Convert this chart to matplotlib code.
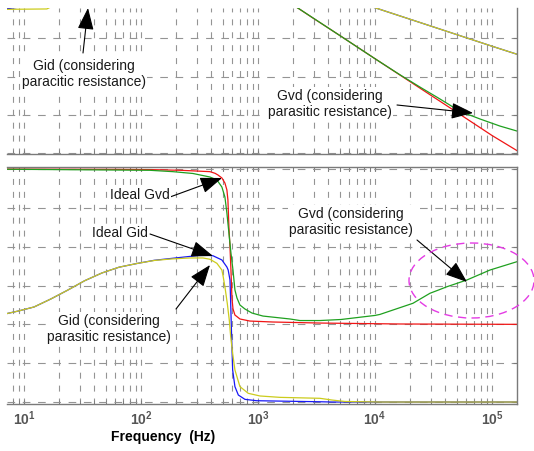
import matplotlib
matplotlib.use("Agg")
import matplotlib.pyplot as plt
from matplotlib.patches import Ellipse

plt.rcParams["font.family"] = ["Liberation Sans", "DejaVu Sans"]
plt.rcParams["mathtext.fontset"] = "custom"
plt.rcParams["mathtext.bf"] = "Liberation Sans:bold"
plt.rcParams["mathtext.rm"] = "Liberation Sans"
plt.rcParams["lines.scale_dashes"] = False

# ---- data ----
f_min, f_max = 7.17, 163700

# magnitude (dB), upper plot
gvd_ideal_mag_f = [7.17, 100, 300, 500, 600, 700, 1000, 2000, 3000, 5000, 10000, 20000, 50000, 100000, 163700]
gvd_ideal_mag_db = [46, 46.5, 48, 55, 70, 58, 49.3, 37.3, 30.2, 21.4, 9.3, -2.7, -18.6, -30.7, -38.6]

gvd_par_mag_f = [7.17, 100, 300, 500, 600, 700, 1000, 2000, 5000, 10000, 16370, 24270, 35950, 53250, 78900,
                 117000, 163700]
gvd_par_mag_db = [46, 46.5, 48, 54, 60, 56, 49.3, 37.3, 21.4, 9.3, 0.9, -5.5, -11.7, -18.1, -22.1, -25.8, -28.4]

gid_ideal_mag_f = [7.17, 10, 15, 30, 100, 600, 3000, 7000, 10400, 30000, 100000, 163700]
gid_ideal_mag_db = [35.3, 36.5, 38.5, 42, 48, 70, 45, 38.9, 35.5, 26.3, 15.8, 11.6]

gid_par_mag_f = [7.17, 15.7, 18, 30, 100, 600, 3000, 7000, 10400, 30000, 100000, 163700]
gid_par_mag_db = [35.0, 35.2, 37.0, 41, 47, 58, 44, 38.9, 35.5, 26.3, 15.8, 11.6]

# phase (deg), lower plot
gvd_ideal_ph_f = [7.17, 60, 119, 215, 262, 389, 430, 456, 492, 522, 543, 554, 565, 577, 588, 600, 612, 636,
                  702, 855, 1343, 3388, 16370, 163700]
gvd_ideal_ph = [-0.1, -0.4, -0.7, -1.5, -2.0, -3.1, -5.0, -7.0, -10.4, -16.2, -24.3, -35.9, -67.2, -90.4,
                -117.1, -150.0, -162.0, -169.2, -173.8, -176.2, -177.3, -178.5, -179.6, -180.0]

gvd_par_ph_f = [7.17, 119, 188, 278, 389, 446, 492, 522, 543, 565, 588, 612, 636, 662, 702, 774, 889, 1104,
                1878, 2286, 3388, 5120, 7000, 10000, 11040, 15000, 21130, 29540, 35000, 41250, 50000, 61100,
                78000, 96100, 125000, 163700]
gvd_par_ph = [-0.3, -1.5, -3.1, -5.2, -9.3, -12.7, -20.9, -32.4, -51.0, -74.2, -97.3, -117.1, -140.2, -149.5,
              -157.6, -162.2, -166.9, -170.4, -173.8, -175.6, -175.6, -174.4, -172.2, -169.7, -168.5, -162.4,
              -155.6, -144.0, -140.2, -136.4, -132.6, -128.6, -122.4, -117.1, -112.3, -107.4]

gid_ideal_ph_f = [7.17, 9, 12.2, 17, 23.8, 33, 46.4, 65, 92.5, 130, 180, 262, 339, 412, 492, 543, 557, 577,
                  585, 596, 608, 636, 680, 774, 975, 3388, 4290, 163700]
gid_ideal_ph = [-167.5, -164.5, -159.9, -150.6, -140.2, -129.5, -120.5, -113.8, -109.5, -105.8, -103.7,
                -101.3, -99.5, -100.5, -105.4, -113.6, -117.1, -128.6, -155.6, -194.3, -232.9, -252.2, -261.9,
                -266.9, -268.5, -269.7, -270, -270]

gid_par_ph_f = [7.17, 9, 12.2, 17, 23.8, 33, 46.4, 65, 92.5, 130, 180, 262, 339, 389, 446, 492, 505, 522, 547,
                569, 585, 608, 636, 702, 750, 826, 1040, 1542, 3388, 4290, 5546, 11040, 163700]
gid_par_ph = [-167.5, -164.5, -159.9, -150.6, -140.2, -129.5, -120.5, -113.8, -109.5, -106.0, -104.3,
              -103.1, -103.1, -104.6, -109.3, -117.1, -124.8, -136.4, -155.6, -175.0, -194.3, -213.6, -232.9,
              -252.2, -255.3, -259.9, -263.0, -264.6, -265.7, -267.7, -269.4, -270, -270]

decade_ticks = [10, 100, 1000, 10000, 100000]
decade_labels = [r"$\mathbf{10^{1}}$", r"$\mathbf{10^{2}}$", r"$\mathbf{10^{3}}$",
                 r"$\mathbf{10^{4}}$", r"$\mathbf{10^{5}}$"]

RED, GREEN, BLUE, YELLOW = "#f01515", "#1fa01f", "#1818f5", "#cccc1c"
GRID = "#949494"
SPINE = "#7a7a7a"

W, H = 534, 451


def fx(px):
    return px / W


def fy(py):
    return 1 - py / H


fig = plt.figure(figsize=(W / 100, H / 100), dpi=100)
ax1 = fig.add_axes([fx(7), fy(153.5), (517 - 7) / W, (153.5 - 8) / H])
ax2 = fig.add_axes([fx(7), fy(404), (517 - 7) / W, (404 - 167) / H])

# -------- magnitude --------
ax1.plot(gvd_ideal_mag_f, gvd_ideal_mag_db, color=RED, lw=0.9)
ax1.plot(gvd_par_mag_f, gvd_par_mag_db, color=GREEN, lw=0.9)
ax1.plot(gid_ideal_mag_f, gid_ideal_mag_db, color=BLUE, lw=0.9)
ax1.plot(gid_par_mag_f, gid_par_mag_db, color=YELLOW, lw=0.9)
ax1.set_ylim(-40.1, 35.7)
ax1.set_yticks([-40, -20, 0, 20])

# -------- phase --------
ax2.plot(gvd_ideal_ph_f, gvd_ideal_ph, color=RED, lw=0.9)
ax2.plot(gvd_par_ph_f, gvd_par_ph, color=GREEN, lw=0.9)
ax2.plot(gid_ideal_ph_f, gid_ideal_ph, color=BLUE, lw=0.9)
ax2.plot(gid_par_ph_f, gid_par_ph, color=YELLOW, lw=0.9)
ax2.set_ylim(-272.3, 2.3)
ax2.set_yticks([-270, -225, -180, -135, -90, -45, 0])

for ax in (ax1, ax2):
    ax.set_xscale("log")
    ax.set_xlim(f_min, f_max)
    ax.set_axisbelow(True)
    ax.grid(True, which="both", axis="x", color=GRID, lw=0.8, ls=(0, (4.3, 5.0)))
    ax.grid(True, which="major", axis="y", color=GRID, lw=0.8, ls=(0, (5.5, 5.5)))
    ax.spines["left"].set_visible(False)
    for s in ("top", "right", "bottom"):
        ax.spines[s].set_color(SPINE)
        ax.spines[s].set_linewidth(1.0)
    ax.tick_params(axis="y", which="both", left=False, right=True, direction="in",
                   length=3, color=SPINE, labelleft=False)

ax1.spines["top"].set_visible(False)
ax1.tick_params(axis="x", which="both", direction="in", length=3, color=SPINE,
                labelbottom=False)
ax2.tick_params(axis="x", which="both", direction="in", length=3, color=SPINE,
                top=True, pad=4)
ax2.tick_params(axis="x", which="minor", labelbottom=False)
ax2.set_xticks(decade_ticks)
ax2.set_xticklabels(decade_labels, fontsize=10, color="#555555")

fig.text(fx(163), fy(437), "Frequency  (Hz)", ha="center", va="center",
         fontsize=10, fontweight="bold")

# -------- annotations --------
box = dict(facecolor="white", edgecolor="none", pad=1)
notes = [
    ("Gid (considering\nparacitic resistance)", (84, 74), (83, 53), (88, 8)),
    ("Gvd (considering\nparasitic resistance)", (330, 104), (397, 105), (473, 113)),
    ("Ideal Gvd", (139.5, 195), (170, 197), (222, 178)),
    ("Ideal Gid", (120, 233), (150, 234), (213, 256)),
    ("Gid (considering\nparasitic resistance)", (109, 329), (176, 309), (210, 265)),
    ("Gvd (considering\nparasitic resistance)", (351, 222), (417, 240), (467, 282)),
]
for label, (tx, ty), (sx, sy), (hx, hy) in notes:
    fig.text(fx(tx), fy(ty), label, ha="center", va="center", fontsize=10,
             color="#1a1a1a", linespacing=1.25, bbox=box, zorder=5)
    ax2.annotate("", xy=(fx(hx), fy(hy)), xycoords="figure fraction",
                 xytext=(fx(sx), fy(sy)), textcoords="figure fraction",
                 arrowprops=dict(arrowstyle="-|>,head_length=0.75,head_width=0.28",
                                 color="black", lw=0.8, shrinkA=0, shrinkB=0,
                                 mutation_scale=18), zorder=6)

ring = Ellipse((fx(471.5), fy(280.5)), 125 / W, 75 / H, transform=fig.transFigure,
               fill=False, edgecolor="#e43be4", lw=1.0, ls=(0, (6, 4)), zorder=6)
fig.add_artist(ring)

fig.savefig("out.png", dpi=100)
